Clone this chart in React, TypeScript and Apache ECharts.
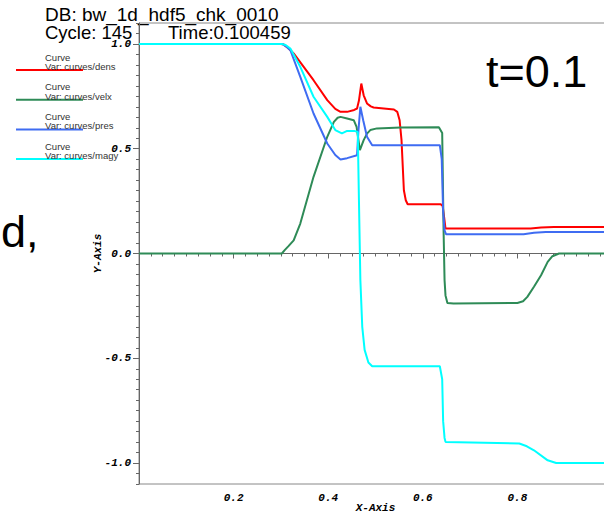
import React, { useEffect, useRef } from "react";
import * as echarts from "echarts";

// ---- data ----
const seriesNames = ["curves/dens", "curves/velx", "curves/pres", "curves/magy"];
const seriesColors = ["#ff0000", "#2e8b57", "#3f6cf2", "#00ffff"];

const densX = [0, 0.300, 0.306, 0.313, 0.327, 0.369, 0.398, 0.415, 0.426, 0.440, 0.455, 0.461, 0.465, 0.470, 0.475, 0.482, 0.490, 0.496, 0.539, 0.546, 0.551, 0.555, 0.560, 0.564, 0.568, 0.638, 0.642, 0.645, 0.648, 0.828, 0.850, 0.877, 1.0];
const densY = [1.0, 1.0, 0.997, 0.985, 0.955, 0.827, 0.732, 0.69, 0.676, 0.676, 0.685, 0.692, 0.73, 0.811, 0.755, 0.716, 0.702, 0.697, 0.687, 0.676, 0.636, 0.541, 0.302, 0.254, 0.235, 0.235, 0.226, 0.175, 0.119, 0.119, 0.124, 0.127, 0.127];

const velxX = [0, 0.302, 0.308, 0.316, 0.327, 0.341, 0.369, 0.398, 0.412, 0.420, 0.426, 0.440, 0.454, 0.460, 0.467, 0.475, 0.482, 0.489, 0.503, 0.553, 0.634, 0.641, 0.644, 0.646, 0.648, 0.652, 0.665, 0.800, 0.812, 0.821, 0.835, 0.850, 0.864, 0.874, 0.888, 1.0];
const velxY = [0, 0, 0.016, 0.035, 0.063, 0.143, 0.366, 0.557, 0.628, 0.648, 0.652, 0.644, 0.636, 0.604, 0.493, 0.541, 0.572, 0.589, 0.597, 0.601, 0.603, 0.575, 0.1, -0.127, -0.2, -0.236, -0.239, -0.236, -0.228, -0.207, -0.159, -0.104, -0.040, -0.013, 0, 0];

const presX = [0, 0.303, 0.310, 0.320, 0.341, 0.369, 0.398, 0.415, 0.426, 0.440, 0.461, 0.464, 0.468, 0.474, 0.482, 0.493, 0.553, 0.636, 0.640, 0.643, 0.646, 0.649, 0.813, 0.835, 0.860, 1.0];
const presY = [1, 1, 0.99, 0.970, 0.843, 0.668, 0.525, 0.47, 0.449, 0.455, 0.469, 0.589, 0.70, 0.636, 0.557, 0.517, 0.517, 0.517, 0.45, 0.20, 0.11, 0.092, 0.092, 0.099, 0.103, 0.103];

const magyX = [0, 0.302, 0.310, 0.320, 0.341, 0.369, 0.398, 0.415, 0.429, 0.440, 0.455, 0.4625, 0.465, 0.468, 0.472, 0.477, 0.485, 0.493, 0.636, 0.641, 0.643, 0.646, 0.648, 0.804, 0.820, 0.835, 0.864, 0.882, 1.0];
const magyY = [1, 1, 0.995, 0.978, 0.891, 0.748, 0.652, 0.589, 0.573, 0.585, 0.585, 0.58, 0.254, -0.127, -0.35, -0.46, -0.52, -0.538, -0.538, -0.60, -0.80, -0.88, -0.899, -0.907, -0.92, -0.939, -0.987, -1.0, -1.0];

const yMajorTicks = [-1.0, -0.5, 0.0, 0.5, 1.0];

const headerDB = "DB: bw_1d_hdf5_chk_0010";
const headerCycle = "Cycle: 145";
const headerTime = "Time:0.100459";
const bigLabel = "t=0.1";
const sideLabel = "d,";

const zip = (xs: number[], ys: number[]) => xs.map((x, i) => [x, ys[i]]);

export default function App() {
  const ref = useRef<HTMLDivElement>(null);
  useEffect(() => {
    if (!ref.current) return;
    const chart = echarts.init(ref.current, null, { renderer: "svg" });
    const tickFont = {
      fontFamily: "Liberation Mono",
      fontWeight: "bold" as const,
      fontStyle: "italic" as const,
      fontSize: 11,
      color: "#000",
    };
    const allData = [zip(densX, densY), zip(velxX, velxY), zip(presX, presY), zip(magyX, magyY)];

    const legendGraphics: any[] = [];
    seriesNames.forEach((name, i) => {
      const ly = 70 + i * 29.7;
      legendGraphics.push({
        type: "line",
        shape: { x1: 16, y1: ly, x2: 83, y2: ly },
        style: { stroke: seriesColors[i], lineWidth: 2 },
      });
      legendGraphics.push({
        type: "text",
        x: 45,
        y: ly - 13,
        style: { text: "Curve", fontFamily: "Liberation Sans", fontSize: 9.5, fill: "#333", verticalAlign: "middle" },
      });
      legendGraphics.push({
        type: "text",
        x: 45,
        y: ly - 3.5,
        style: { text: "Var: " + name, fontFamily: "Liberation Sans", fontSize: 9.5, fill: "#333", verticalAlign: "middle" },
      });
    });

    chart.setOption({
      animation: false,
      grid: {
        left: 139,
        top: 23,
        right: -8,
        bottom: 28,
        containLabel: false,
        outerBoundsMode: "none",
        show: true,
        borderColor: "#888",
        borderWidth: 1,
      },
      xAxis: {
        type: "value",
        min: 0,
        max: 1,
        interval: 0.2,
        name: "X-Axis",
        nameLocation: "middle",
        nameGap: 18,
        nameMoveOverlap: false,
        nameTextStyle: tickFont,
        axisLine: { lineStyle: { color: "#666", width: 1 } },
        axisTick: { show: true, length: 5, lineStyle: { color: "#666" } },
        minorTick: { show: true, splitNumber: 8, length: 3, lineStyle: { color: "#666" } },
        splitLine: { show: false },
        axisLabel: { ...tickFont, margin: 8, showMinLabel: false, showMaxLabel: false, formatter: (v: number) => v.toFixed(1) },
      },
      yAxis: [
        {
          type: "value",
          min: -1.1,
          max: 1.1,
          interval: 0.05,
          name: "Y-Axis",
          nameLocation: "middle",
          nameGap: 36,
          nameMoveOverlap: false,
          nameTextStyle: tickFont,
          axisLine: { show: true, lineStyle: { color: "#666", width: 1 } },
          axisTick: { show: true, length: 3, lineStyle: { color: "#666" } },
          splitLine: { show: false },
          axisLabel: {
            ...tickFont,
            margin: 8,
            formatter: (v: number) => {
              const isMajor = yMajorTicks.some((m) => Math.abs(m - v) < 1e-6);
              return isMajor ? v.toFixed(1) : "";
            },
          },
        },
        {
          type: "value",
          min: -1.1,
          max: 1.1,
          position: "left",
          offset: 0,
          axisLine: { show: false },
          axisTick: { show: true, length: 6, customValues: yMajorTicks, lineStyle: { color: "#666" } },
          axisLabel: { show: false },
          splitLine: { show: false },
        },
      ],
      series: seriesNames.map((name, i) => ({
        name,
        type: "line",
        data: allData[i],
        showSymbol: false,
        lineStyle: { color: seriesColors[i], width: 2 },
        itemStyle: { color: seriesColors[i] },
      })),
      graphic: [
        {
          type: "text",
          x: 45,
          y: 14,
          style: { text: headerDB, fontFamily: "Liberation Sans", fontSize: 19, fill: "#000", verticalAlign: "middle" },
        },
        {
          type: "text",
          x: 45,
          y: 32,
          style: { text: headerCycle, fontFamily: "Liberation Sans", fontSize: 18.5, fill: "#000", verticalAlign: "middle" },
        },
        {
          type: "text",
          x: 168,
          y: 32,
          style: { text: headerTime, fontFamily: "Liberation Sans", fontSize: 18.5, fill: "#000", verticalAlign: "middle" },
        },
        {
          type: "text",
          x: 486,
          y: 71,
          style: { text: bigLabel, fontFamily: "Liberation Sans", fontSize: 45, fill: "#000", verticalAlign: "middle" },
        },
        {
          type: "text",
          x: 1,
          y: 231,
          style: { text: sideLabel, fontFamily: "Liberation Sans", fontSize: 45, fill: "#000", verticalAlign: "middle" },
        },
        ...legendGraphics,
      ],
    });
    return () => chart.dispose();
  }, []);
  return <div ref={ref} style={{ position: "absolute", left: 0, top: 0, width: 604, height: 512 }} />;
}
